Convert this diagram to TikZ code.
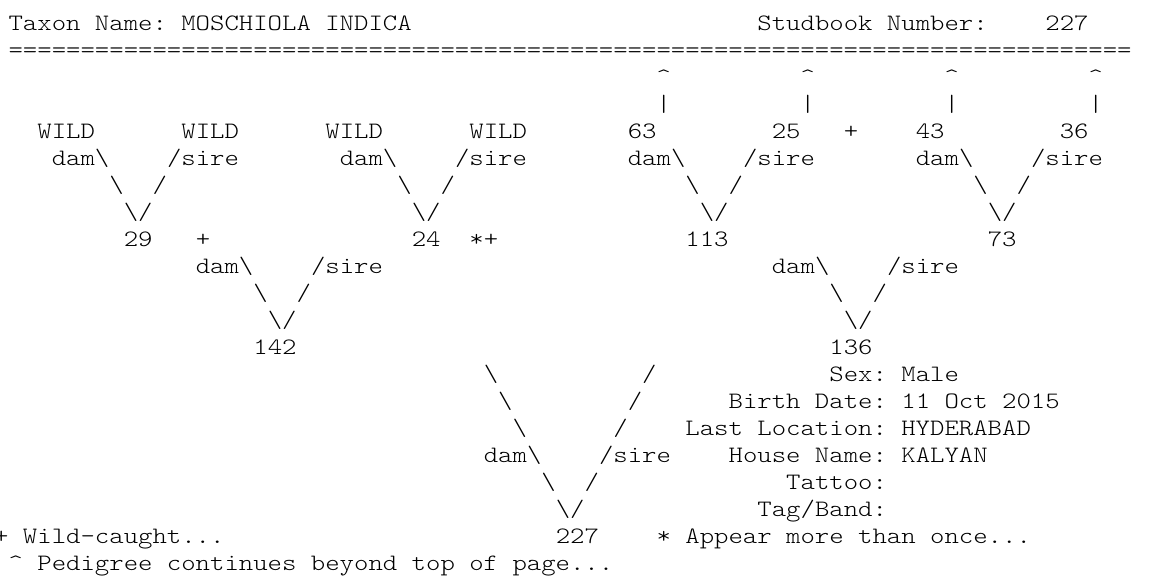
\documentclass[tikz,border=0pt]{standalone}
\usepackage{fontspec}
\setmonofont[FakeStretch=1.167]{Latin Modern Mono Light}
\newcommand\bs{\textbackslash}
\newcommand\crt{\textasciicircum}
\newcommand\gl[4]{\node[mono] (#1) at ({-6+14.4*#2},{-30-27*#3}) {#4};}
\begin{document}
\begin{tikzpicture}[x=1pt,y=1pt,
  mono/.style={font=\ttfamily\fontsize{23.5}{27}\selectfont, text=black, inner sep=0pt, anchor=base west}]
\path[use as bounding box, fill=white] (0,0) rectangle (1151,-576);
% header
\gl{taxon}{1}{0}{Taxon Name: MOSCHIOLA INDICA}
\gl{sblab}{53}{0}{Studbook Number:}
\gl{sbnum}{73}{0}{227}
\gl{rule}{1}{1}{==============================================================================}
% continuation marks
\gl{ca}{46}{2}{\crt}\gl{cb}{56}{2}{\crt}\gl{cc}{66}{2}{\crt}\gl{cd}{76}{2}{\crt}
\gl{va}{46}{3}{\textbar}\gl{vb}{56}{3}{\textbar}\gl{vc}{66}{3}{\textbar}\gl{vd}{76}{3}{\textbar}
% great-grandparents
\gl{w1}{3}{4}{WILD}\gl{w2}{13}{4}{WILD}\gl{w3}{23}{4}{WILD}\gl{w4}{33}{4}{WILD}
\gl{n63}{44}{4}{63}\gl{n25}{54}{4}{25}\gl{p25}{59}{4}{+}\gl{n43}{64}{4}{43}\gl{n36}{74}{4}{36}
% row 5
\gl{d1}{4}{5}{dam\bs}\gl{s1}{12}{5}{/sire}
\gl{d2}{24}{5}{dam\bs}\gl{s2}{32}{5}{/sire}
\gl{d3}{44}{5}{dam\bs}\gl{s3}{52}{5}{/sire}
\gl{d4}{64}{5}{dam\bs}\gl{s4}{72}{5}{/sire}
% row 6
\gl{a1}{8}{6}{\bs}\gl{b1}{11}{6}{/}
\gl{a2}{28}{6}{\bs}\gl{b2}{31}{6}{/}
\gl{a3}{48}{6}{\bs}\gl{b3}{51}{6}{/}
\gl{a4}{68}{6}{\bs}\gl{b4}{71}{6}{/}
% row 7
\gl{v1}{9}{7}{\bs/}\gl{v2}{29}{7}{\bs/}\gl{v3}{49}{7}{\bs/}\gl{v4}{69}{7}{\bs/}
% grandparents
\gl{n29}{9}{8}{29}\gl{p29}{14}{8}{+}
\gl{n24}{29}{8}{24}\gl{p24}{33}{8}{*+}
\gl{n113}{48}{8}{113}\gl{n73}{69}{8}{73}
% row 9
\gl{d5}{14}{9}{dam\bs}\gl{s5}{22}{9}{/sire}
\gl{d6}{54}{9}{dam\bs}\gl{s6}{62}{9}{/sire}
% row 10
\gl{a5}{18}{10}{\bs}\gl{b5}{21}{10}{/}
\gl{a6}{58}{10}{\bs}\gl{b6}{61}{10}{/}
% row 11
\gl{v5}{19}{11}{\bs/}\gl{v6}{59}{11}{\bs/}
% parents
\gl{n142}{18}{12}{142}\gl{n136}{58}{12}{136}
% big V and info
\gl{a7}{34}{13}{\bs}\gl{b7}{45}{13}{/}\gl{sex}{58}{13}{Sex: Male}
\gl{a8}{35}{14}{\bs}\gl{b8}{44}{14}{/}\gl{birth}{51}{14}{Birth Date: 11 Oct 2015}
\gl{a9}{36}{15}{\bs}\gl{b9}{43}{15}{/}\gl{loc}{48}{15}{Last Location: HYDERABAD}
\gl{d7}{34}{16}{dam\bs}\gl{s7}{42}{16}{/sire}\gl{house}{51}{16}{House Name: KALYAN}
\gl{a10}{38}{17}{\bs}\gl{b10}{41}{17}{/}\gl{tattoo}{55}{17}{Tattoo:}
\gl{v7}{39}{18}{\bs/}\gl{tag}{53}{18}{Tag/Band:}
% bottom
\gl{wild}{0}{19}{+ Wild-caught...}
\gl{n227}{39}{19}{227}
\gl{once}{46}{19}{* Appear more than once...}
\gl{beyond}{1}{20}{\crt{} Pedigree continues beyond top of page...}
\end{tikzpicture}
\end{document}
